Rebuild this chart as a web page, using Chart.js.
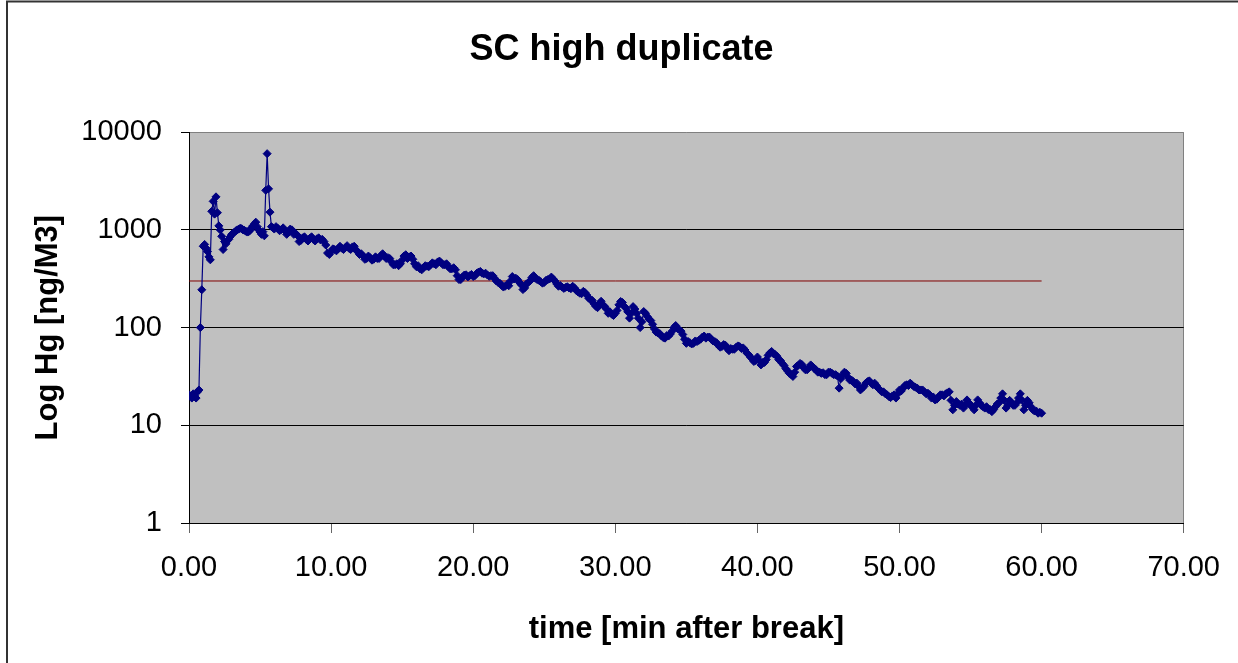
<!DOCTYPE html>
<html><head><meta charset="utf-8">
<script src="https://cdn.jsdelivr.net/npm/chart.js@4.4.1/dist/chart.umd.min.js"></script>
<style>html,body{margin:0;padding:0;background:#fff;} canvas{display:block;}</style>
</head><body>
<canvas id="c" width="1238" height="663"></canvas>
<script>
const chartTitle = 'SC high duplicate';
const xAxisTitle = 'time [min after break]';
const yAxisTitle = 'Log Hg [ng/M3]';

// 0 - 6 min
const timeStart = [0.0,0.1,0.2,0.3,0.4,0.5,0.6,0.7,0.8,0.9,1.0,1.1,1.2,1.3,1.4,1.5,1.6,1.7,1.8,1.9,
  2.0,2.1,2.2,2.3,2.4,2.5,2.6,2.7,2.8,2.9,3.0,3.1,3.2,3.3,3.4,3.5,3.6,3.7,3.8,3.9,
  4.0,4.1,4.2,4.3,4.4,4.5,4.6,4.7,4.8,4.9,5.0,5.1,5.2,5.3,5.4,5.5,5.6,5.7,5.8,5.9,6.0];
const hgStart = [20.5,20,19,21,20,19,22,23,100,244,680,710,650,600,530,494,1550,1960,1450,2180,
  1500,1100,1000,860,630,760,720,780,800,850,900,920,950,980,1000,1020,1040,1030,1000,990,
  970,950,960,990,1050,1100,1150,1200,1080,1000,950,900,960,870,2540,6030,2630,1520,1080,1050,1020];

// 6.25 - 30 min (quarter-minute readings)
const timeMid = [6.25,6.5,6.75,7.0,7.25,7.5,7.75,8.0,8.25,8.5,8.75,9.0,9.25,9.5,9.75,10.0,
  10.25,10.5,10.75,11.0,11.25,11.5,11.75,12.0,12.25,12.5,12.75,13.0,13.25,13.5,13.75,14.0,
  14.25,14.5,14.75,15.0,15.25,15.5,15.75,16.0,16.25,16.5,16.75,17.0,17.25,17.5,17.75,18.0,
  18.25,18.5,18.75,19.0,19.25,19.5,19.75,20.0,20.25,20.5,20.75,21.0,21.25,21.5,21.75,22.0,
  22.25,22.5,22.75,23.0,23.25,23.5,23.75,24.0,24.25,24.5,24.75,25.0,25.25,25.5,25.75,26.0,
  26.25,26.5,26.75,27.0,27.25,27.5,27.75,28.0,28.25,28.5,28.75,29.0,29.25,29.5,29.75,30.0];
const hgMid = [1040,1010,980,950,1000,920,760,830,
  800,820,800,810,790,760,580,600,
  630,640,650,660,650,670,620,560,
  540,510,520,500,510,545,540,520,
  470,440,430,490,557,530,500,420,
  400,410,425,440,450,470,460,440,
  420,400,390,310,330,347,340,333,
  360,376,355,345,340,320,290,270,
  265,268,333,320,290,245,280,300,
  340,310,295,290,310,329,300,265,
  260,258,254,265,240,225,235,215,
  193,175,160,186,165,140,137,140];

// 6.125 - 29.875 min (in-between readings, band edges)
const timeMidB = [6.125,6.375,6.625,6.875,7.125,7.375,7.625,7.875,8.125,8.375,8.625,8.875,9.125,9.375,9.625,9.875,
  10.125,10.375,10.625,10.875,11.125,11.375,11.625,11.875,12.125,12.375,12.625,12.875,13.125,13.375,13.625,13.875,
  14.125,14.375,14.625,14.875,15.125,15.375,15.625,15.875,16.125,16.375,16.625,16.875,17.125,17.375,17.625,17.875,
  18.125,18.375,18.625,18.875,19.125,19.375,19.625,19.875,20.125,20.375,20.625,20.875,21.125,21.375,21.625,21.875,
  22.125,22.375,22.625,22.875,23.125,23.375,23.625,23.875,24.125,24.375,24.625,24.875,25.125,25.375,25.625,25.875,
  26.125,26.375,26.625,26.875,27.125,27.375,27.625,27.875,28.125,28.375,28.625,28.875,29.125,29.375,29.625,29.875];
const hgMidB = [1080,980,1050,900,1020,900,880,780,
  850,770,850,770,830,800,700,560,
  640,610,680,630,690,630,680,600,
  570,500,540,490,530,510,570,510,
  510,440,450,450,540,510,540,450,
  430,390,430,420,460,440,480,440,
  450,400,410,340,310,345,330,350,
  340,370,360,360,335,340,300,285,
  260,275,300,315,310,275,255,290,
  325,320,305,285,305,315,315,280,
  270,252,262,250,255,232,222,228,
  200,190,165,175,170,155,145,133];

// 30.25 - 60 min (quarter-minute readings)
const timeEnd = [30.25,30.5,30.75,31.0,31.25,31.5,31.75,32.0,32.25,32.5,32.75,33.0,33.25,33.5,33.75,34.0,
  34.25,34.5,34.75,35.0,35.25,35.5,35.75,36.0,36.25,36.5,36.75,37.0,37.25,37.5,37.75,38.0,
  38.25,38.5,38.75,39.0,39.25,39.5,39.75,40.0,40.25,40.5,40.75,41.0,41.25,41.5,41.75,42.0,
  42.25,42.5,42.75,43.0,43.25,43.5,43.75,44.0,44.25,44.5,44.75,45.0,45.25,45.5,45.75,46.0,
  46.25,46.5,46.75,47.0,47.25,47.5,47.75,48.0,48.25,48.5,48.75,49.0,49.25,49.5,49.75,50.0,
  50.25,50.5,50.75,51.0,51.25,51.5,51.75,52.0,52.25,52.5,52.75,53.0,53.25,53.5,53.75,54.0,
  54.25,54.5,54.75,55.0,55.25,55.5,55.75,56.0,56.25,56.5,56.75,57.0,57.25,57.5,57.75,58.0,
  58.25,58.5,58.75,59.0,59.25,59.5,59.75,60.0];
const hgEnd = [171,181,158,125,164,140,100,146,
  130,118,97,88,82,78,82,92,
  105,95,85,69,70,69,72,76,
  82,80,76,72,66,64,66,58,
  60,63,64,62,55,50,45,50,
  41.5,44,52,57,53,47,43,38,
  34,31.6,40,43,39,37,41.5,38,
  35,34,33,35,34,33,24,33,
  34,29,28,27,23,25,28,27,
  27,24,22,21,19.7,20,19,23,
  24,26,27,25,24,23,22,21.3,
  19,18.2,19.5,20.5,21,22,14.4,17.5,
  16,15,18.2,16,14.4,18.2,16,15,
  14.5,13.8,15.5,17,21,15,18,16,
  17,21,14.4,18,15.5,14,13.3,13.3];

// 30.125 - 59.875 min (in-between readings, band edges)
const timeEndB = [30.125,30.375,30.625,30.875,31.125,31.375,31.625,31.875,32.125,32.375,32.625,32.875,33.125,33.375,33.625,33.875,
  34.125,34.375,34.625,34.875,35.125,35.375,35.625,35.875,36.125,36.375,36.625,36.875,37.125,37.375,37.625,37.875,
  38.125,38.375,38.625,38.875,39.125,39.375,39.625,39.875,40.125,40.375,40.625,40.875,41.125,41.375,41.625,41.875,
  42.125,42.375,42.625,42.875,43.125,43.375,43.625,43.875,44.125,44.375,44.625,44.875,45.125,45.375,45.625,45.875,
  46.125,46.375,46.625,46.875,47.125,47.375,47.625,47.875,48.125,48.375,48.625,48.875,49.125,49.375,49.625,49.875,
  50.125,50.375,50.625,50.875,51.125,51.375,51.625,51.875,52.125,52.375,52.625,52.875,53.125,53.375,53.625,53.875,
  54.125,54.375,54.625,54.875,55.125,55.375,55.625,55.875,56.125,56.375,56.625,56.875,57.125,57.375,57.625,57.875,
  58.125,58.375,58.625,58.875,59.125,59.375,59.625,59.875];
const hgEndB = [150,185,165,145,140,155,125,115,
  140,122,108,90,87,79,83,86,
  100,98,92,76,72,68,73,74,
  80,78,80,73,70,63,67,61,
  61,60,65,61,59,53,48,46,
  46,44,47,55,54,51,46,41,
  36,33,35,41,42,37,39,40,
  37,35,34.5,33,35,33,32,30,
  35,31,29,26.5,25,24,27,28.5,
  26,25.5,23,22,20.5,19.2,20.5,21,
  22.5,25.5,25.5,26,24.5,23,23,21,
  20.5,19.5,18.5,20.5,20,21.5,18,16,
  16.5,16.5,16,17,15.5,16,17,15.5,
  15.5,14.5,14.5,16.5,19,18,16,17,
  16,19,18,16,17,14.5,14,13.6];

const limitTime = [0, 60];
const limitValue = [300, 300];
const xTickValues = [0, 10, 20, 30, 40, 50, 60, 70];
const yTickValues = [1, 10, 100, 1000, 10000];

const timeAll = timeStart.concat(timeMidB, timeMid, timeEndB, timeEnd);
const hgAll = hgStart.concat(hgMidB, hgMid, hgEndB, hgEnd);
const hgPoints = timeAll.map((t, i) => ({x: t, y: hgAll[i]})).sort((a, b) => a.x - b.x);
const limitPoints = limitTime.map((t, i) => ({x: t, y: limitValue[i]}));

const FONT = '"Liberation Sans", Arial, Helvetica, sans-serif';

const framePlugin = {
  id: 'frame',
  afterLayout(chart) {
    if (chart.titleBlock) { chart.titleBlock.left = 5; chart.titleBlock.right = 1238; }
  },
  beforeDraw(chart) {
    const ctx = chart.ctx, a = chart.chartArea;
    ctx.save();
    ctx.fillStyle = '#ffffff';
    ctx.fillRect(0, 0, chart.width, chart.height);
    ctx.fillStyle = '#C0C0C0';
    ctx.fillRect(a.left, a.top, a.right - a.left, a.bottom - a.top);
    ctx.strokeStyle = '#808080';
    ctx.lineWidth = 1;
    ctx.beginPath();
    ctx.moveTo(Math.round(a.right) - 0.5, a.top);
    ctx.lineTo(Math.round(a.right) - 0.5, a.bottom);
    ctx.stroke();
    ctx.strokeStyle = '#333333';
    ctx.lineWidth = 2;
    ctx.beginPath();
    ctx.moveTo(7, chart.height);
    ctx.lineTo(7, 1.5);
    ctx.lineTo(chart.width, 1.5);
    ctx.stroke();
    ctx.restore();
  }
};

new Chart(document.getElementById('c'), {
  type: 'line',
  data: {
    datasets: [
      {
        label: 'Hg',
        data: hgPoints,
        borderColor: '#000080',
        backgroundColor: '#000080',
        borderWidth: 1.2,
        tension: 0,
        pointStyle: 'rectRot',
        pointRadius: 4,
        pointBorderWidth: 1,
        pointBackgroundColor: '#000080',
        pointBorderColor: '#000080',
        fill: false
      },
      {
        label: 'limit',
        data: limitPoints,
        borderColor: '#800000',
        borderWidth: 1,
        pointRadius: 0,
        tension: 0,
        fill: false
      }
    ]
  },
  options: {
    responsive: false,
    animation: false,
    devicePixelRatio: 1,
    layout: {padding: {left: 0, right: 52, top: 0, bottom: 0}},
    plugins: {
      legend: {display: false},
      tooltip: {enabled: false},
      title: {
        display: true, text: chartTitle, color: '#000',
        font: {family: FONT, size: 36, weight: 'bold'},
        padding: {top: 28, bottom: 61}
      }
    },
    scales: {
      x: {
        type: 'linear', min: 0, max: 70,
        afterBuildTicks: s => { s.ticks = xTickValues.map(v => ({value: v})); },
        afterFit: s => { s.height = 140; },
        grid: {drawOnChartArea: false, drawTicks: true, tickLength: 10, color: '#666666'},
        border: {display: true, color: '#000', width: 1},
        ticks: {
          padding: 18, color: '#000', autoSkip: false, maxRotation: 0,
          font: {family: FONT, size: 29},
          callback: v => Number(v).toFixed(2)
        },
        title: {
          display: true, text: xAxisTitle, color: '#000',
          font: {family: FONT, size: 31, weight: 'bold'},
          padding: {top: 0, bottom: 15}
        }
      },
      y: {
        type: 'logarithmic', min: 1, max: 10000,
        afterBuildTicks: s => { s.ticks = yTickValues.map(v => ({value: v})); },
        afterFit: s => { s.width = 189; },
        grid: {
          drawOnChartArea: true, drawTicks: true, tickLength: 8,
          color: c => (c.tick && c.tick.value === 10000) ? '#808080' : '#000000',
          tickColor: '#000000'
        },
        border: {display: true, color: '#000', width: 1},
        ticks: {
          padding: 19, color: '#000',
          font: {family: FONT, size: 29},
          callback: v => String(v)
        },
        title: {
          display: true, text: yAxisTitle, color: '#000',
          font: {family: FONT, size: 31, weight: 'bold'},
          padding: {top: 30, bottom: 0}
        }
      }
    }
  },
  plugins: [framePlugin]
});
</script>
</body></html>
